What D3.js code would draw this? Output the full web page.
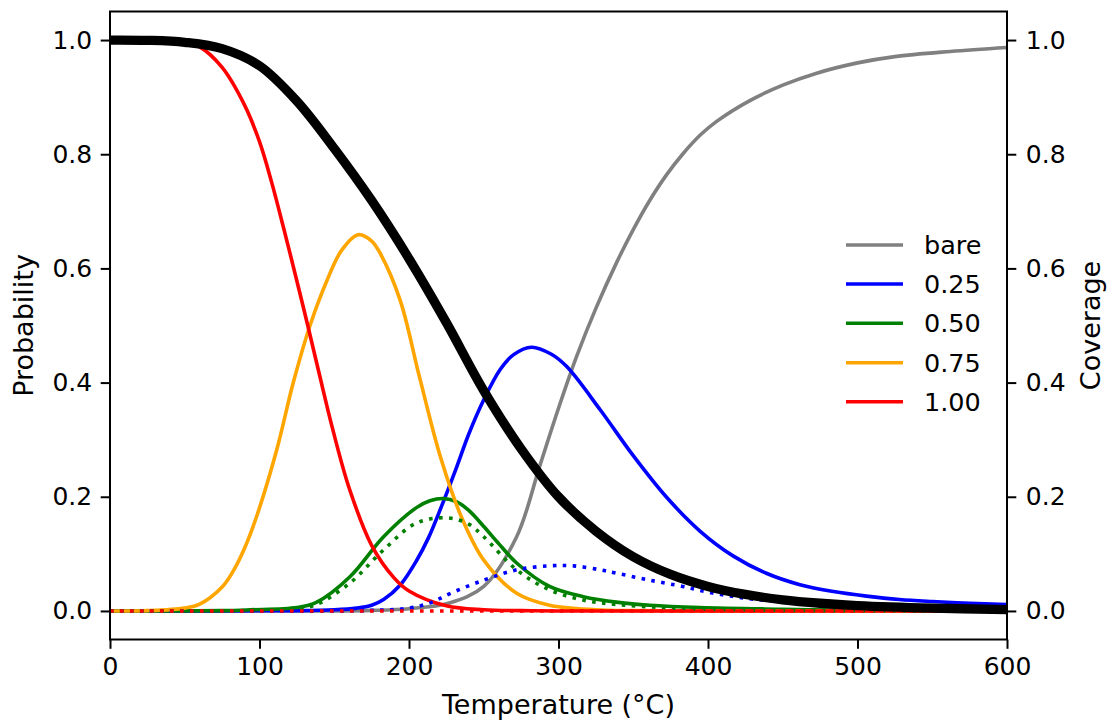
<!DOCTYPE html>
<html>
<head>
<meta charset="utf-8">
<script src="https://cdn.jsdelivr.net/npm/d3@7"></script>
<style>
  html, body { margin: 0; padding: 0; background: #fff; }
  svg { display: block; font-family: "DejaVu Sans", sans-serif; }
</style>
</head>
<body>
<svg id="chart" width="1108" height="721"></svg>
<script>
// ---------------- data ----------------
const xTicks = [0, 100, 200, 300, 400, 500, 600];
const yTicks = [0.0, 0.2, 0.4, 0.6, 0.8, 1.0];
const legendLabels = ["bare", "0.25", "0.50", "0.75", "1.00"];
const legendColors = ["#808080", "#0000ff", "#008000", "#ffa500", "#ff0000"];

// Probability of each coverage state vs temperature
const tBare = [0, 150, 175, 200, 227, 250, 272, 287.6, 300, 312, 325, 339, 350, 361, 372, 383, 395, 406, 428, 450, 472.7, 500, 525, 562, 600];
const pBare = [0, 0, 0.001, 0.004, 0.014, 0.043, 0.13, 0.255, 0.355, 0.445, 0.53, 0.611, 0.668, 0.719, 0.763, 0.8, 0.834, 0.858, 0.894, 0.921, 0.942, 0.96, 0.971, 0.98, 0.987];

const tQ25 = [0, 125, 150, 165, 175, 183, 194, 205, 213, 222, 232, 240, 250, 261, 270, 282, 295, 305.5, 328, 350, 372, 394.6, 417, 439, 461.5, 484, 506, 528, 550, 575, 600];
const pQ25 = [0, 0.0005, 0.002, 0.005, 0.01, 0.02, 0.045, 0.088, 0.128, 0.185, 0.253, 0.31, 0.37, 0.423, 0.449, 0.462, 0.45, 0.428, 0.352, 0.272, 0.2, 0.14, 0.096, 0.066, 0.046, 0.034, 0.026, 0.02, 0.0165, 0.0135, 0.011];

const tQ50 = [0, 75, 93.6, 125, 138, 160.5, 183, 205, 214, 223, 232, 240, 250, 260, 272, 294, 316.6, 340, 361, 394.6, 450, 500, 600];
const pQ50 = [0, 0.0005, 0.002, 0.006, 0.015, 0.06, 0.13, 0.181, 0.193, 0.197, 0.191, 0.176, 0.148, 0.118, 0.084, 0.043, 0.025, 0.015, 0.01, 0.006, 0.003, 0.001, 0];

const tQ75 = [0, 25, 50, 60, 75, 82, 90, 98, 111.5, 122.6, 133.8, 145, 155, 166, 175, 180.6, 194, 207, 221, 235, 250, 272, 294, 325, 350, 400, 600];
const pQ75 = [0, 0.0005, 0.005, 0.012, 0.042, 0.068, 0.11, 0.165, 0.282, 0.4, 0.5, 0.578, 0.632, 0.659, 0.648, 0.627, 0.545, 0.41, 0.27, 0.165, 0.089, 0.031, 0.01, 0.002, 0.0005, 0, 0];

const tQ100 = [0, 25, 50, 60, 75, 90, 100, 108, 116, 125, 132, 140, 149, 160, 175, 190, 200, 225, 250, 275, 300, 600];
const pQ100 = [1.0, 1.0, 0.996, 0.988, 0.952, 0.886, 0.822, 0.752, 0.672, 0.578, 0.503, 0.415, 0.318, 0.215, 0.115, 0.058, 0.035, 0.009, 0.002, 0.0005, 0, 0];

// Dotted companions
const tQ25dot = [0, 175, 200, 215, 227, 250, 272, 294, 310, 328, 339, 361, 383, 394.6, 420, 450, 500, 550, 600];
const pQ25dot = [0, 0.001, 0.005, 0.015, 0.03, 0.054, 0.072, 0.079, 0.079, 0.072, 0.066, 0.054, 0.043, 0.036, 0.024, 0.016, 0.008, 0.004, 0.002];

const tQ50dot = [0, 100, 125, 138, 160.5, 183, 205, 226, 240, 250, 272, 294, 316.6, 340, 370, 400, 450, 600];
const pQ50dot = [0, 0.001, 0.004, 0.011, 0.049, 0.107, 0.154, 0.163, 0.152, 0.13, 0.072, 0.037, 0.019, 0.011, 0.006, 0.003, 0.001, 0];

const tQ100dot = [0, 600];
const pQ100dot = [0, 0];

// Total coverage (thick black)
const tCov = [0, 25, 50, 75, 100, 125, 150, 175, 200, 225, 250, 275, 300, 325, 350, 375, 400, 425, 450, 475, 500, 550, 600];
const covTotal = [1.0, 0.9995, 0.996, 0.985, 0.955, 0.893, 0.81, 0.719, 0.617, 0.505, 0.386, 0.284, 0.2, 0.14, 0.095, 0.064, 0.043, 0.029, 0.0195, 0.0135, 0.0095, 0.005, 0.0025];

// ---------------- drawing ----------------
const svg = d3.select("#chart");
const mLeft = 110, mRight = 1007, mTop = 11.5, mBottom = 639.5;

const x = d3.scaleLinear().domain([0, 600]).range([mLeft, mRight]);
const y = d3.scaleLinear().domain([-0.05, 1.05]).range([mBottom, mTop]);

svg.append("clipPath").attr("id", "clip")
  .append("rect").attr("x", mLeft).attr("y", mTop).attr("width", mRight - mLeft).attr("height", mBottom - mTop);

const line = d3.line().x(d => x(d[0])).y(d => y(d[1])).curve(d3.curveCatmullRom.alpha(0.5));
const pairs = (ts, vs) => ts.map((t, i) => [t, vs[i]]);

const series = [
  { t: tBare, v: pBare, color: legendColors[0], w: 3.6, dash: null },
  { t: tQ25, v: pQ25, color: legendColors[1], w: 3.6, dash: null },
  { t: tQ50, v: pQ50, color: legendColors[2], w: 3.6, dash: null },
  { t: tQ75, v: pQ75, color: legendColors[3], w: 3.6, dash: null },
  { t: tQ100, v: pQ100, color: legendColors[4], w: 3.6, dash: null },
  { t: tQ25dot, v: pQ25dot, color: legendColors[1], w: 3.6, dash: "3.6,6.4" },
  { t: tQ50dot, v: pQ50dot, color: legendColors[2], w: 3.6, dash: "3.6,6.4" },
  { t: tQ100dot, v: pQ100dot, color: legendColors[4], w: 3.6, dash: "3.6,6.4" },
  { t: tCov, v: covTotal, color: "#000000", w: 9.3, dash: null }
];

const lines = svg.append("g").attr("clip-path", "url(#clip)");
series.forEach(s => {
  lines.append("path")
    .attr("d", line(pairs(s.t, s.v)))
    .attr("fill", "none")
    .attr("stroke", s.color)
    .attr("stroke-width", s.w)
    .attr("stroke-dasharray", s.dash)
    .attr("stroke-linejoin", "round")
    .attr("stroke-linecap", "butt");
});

// Axes
const tickFont = 25;
function styleAxis(g) {
  g.select(".domain").remove();
  g.selectAll(".tick line").attr("stroke", "#000").attr("stroke-width", 2);
  g.selectAll(".tick text").attr("fill", "#000").style("font-size", tickFont + "px")
    .style("font-family", "DejaVu Sans");
}

const xAxis = d3.axisBottom(x).tickValues(xTicks).tickSize(9.3).tickPadding(8.5).tickFormat(d3.format("d"));
svg.append("g").attr("transform", `translate(0,${mBottom})`).call(xAxis).call(styleAxis);

const yFmt = d3.format(".1f");
const yAxisL = d3.axisLeft(y).tickValues(yTicks).tickSize(9.3).tickPadding(8.5).tickFormat(yFmt);
svg.append("g").attr("transform", `translate(${mLeft},0)`).call(yAxisL).call(styleAxis);

const yAxisR = d3.axisRight(y).tickValues(yTicks).tickSize(9.3).tickPadding(9.5).tickFormat(yFmt);
svg.append("g").attr("transform", `translate(${mRight},0)`).call(yAxisR).call(styleAxis);

// Frame
svg.append("rect").attr("x", mLeft).attr("y", mTop).attr("width", mRight - mLeft).attr("height", mBottom - mTop)
  .attr("fill", "none").attr("stroke", "#000").attr("stroke-width", 2);

// Axis labels
svg.append("text").attr("x", (mLeft + mRight) / 2).attr("y", 714).attr("text-anchor", "middle")
  .style("font-size", "27px").text("Temperature (°C)");
svg.append("text").attr("transform", `translate(33,${(mTop + mBottom) / 2}) rotate(-90)`)
  .attr("text-anchor", "middle").style("font-size", "27px").text("Probability");
svg.append("text").attr("transform", `translate(1100,${(mTop + mBottom) / 2}) rotate(-90)`)
  .attr("text-anchor", "middle").style("font-size", "27px").text("Coverage");

// Legend
const legendY = [245, 284, 323.3, 362.7, 401.7];
const lg = svg.append("g");
legendLabels.forEach((lab, i) => {
  lg.append("line").attr("x1", 846).attr("x2", 903).attr("y1", legendY[i]).attr("y2", legendY[i])
    .attr("stroke", legendColors[i]).attr("stroke-width", 3.6);
  lg.append("text").attr("x", 924).attr("y", legendY[i]).attr("dy", "0.36em")
    .style("font-size", "25.5px").text(lab);
});
</script>
</body>
</html>
